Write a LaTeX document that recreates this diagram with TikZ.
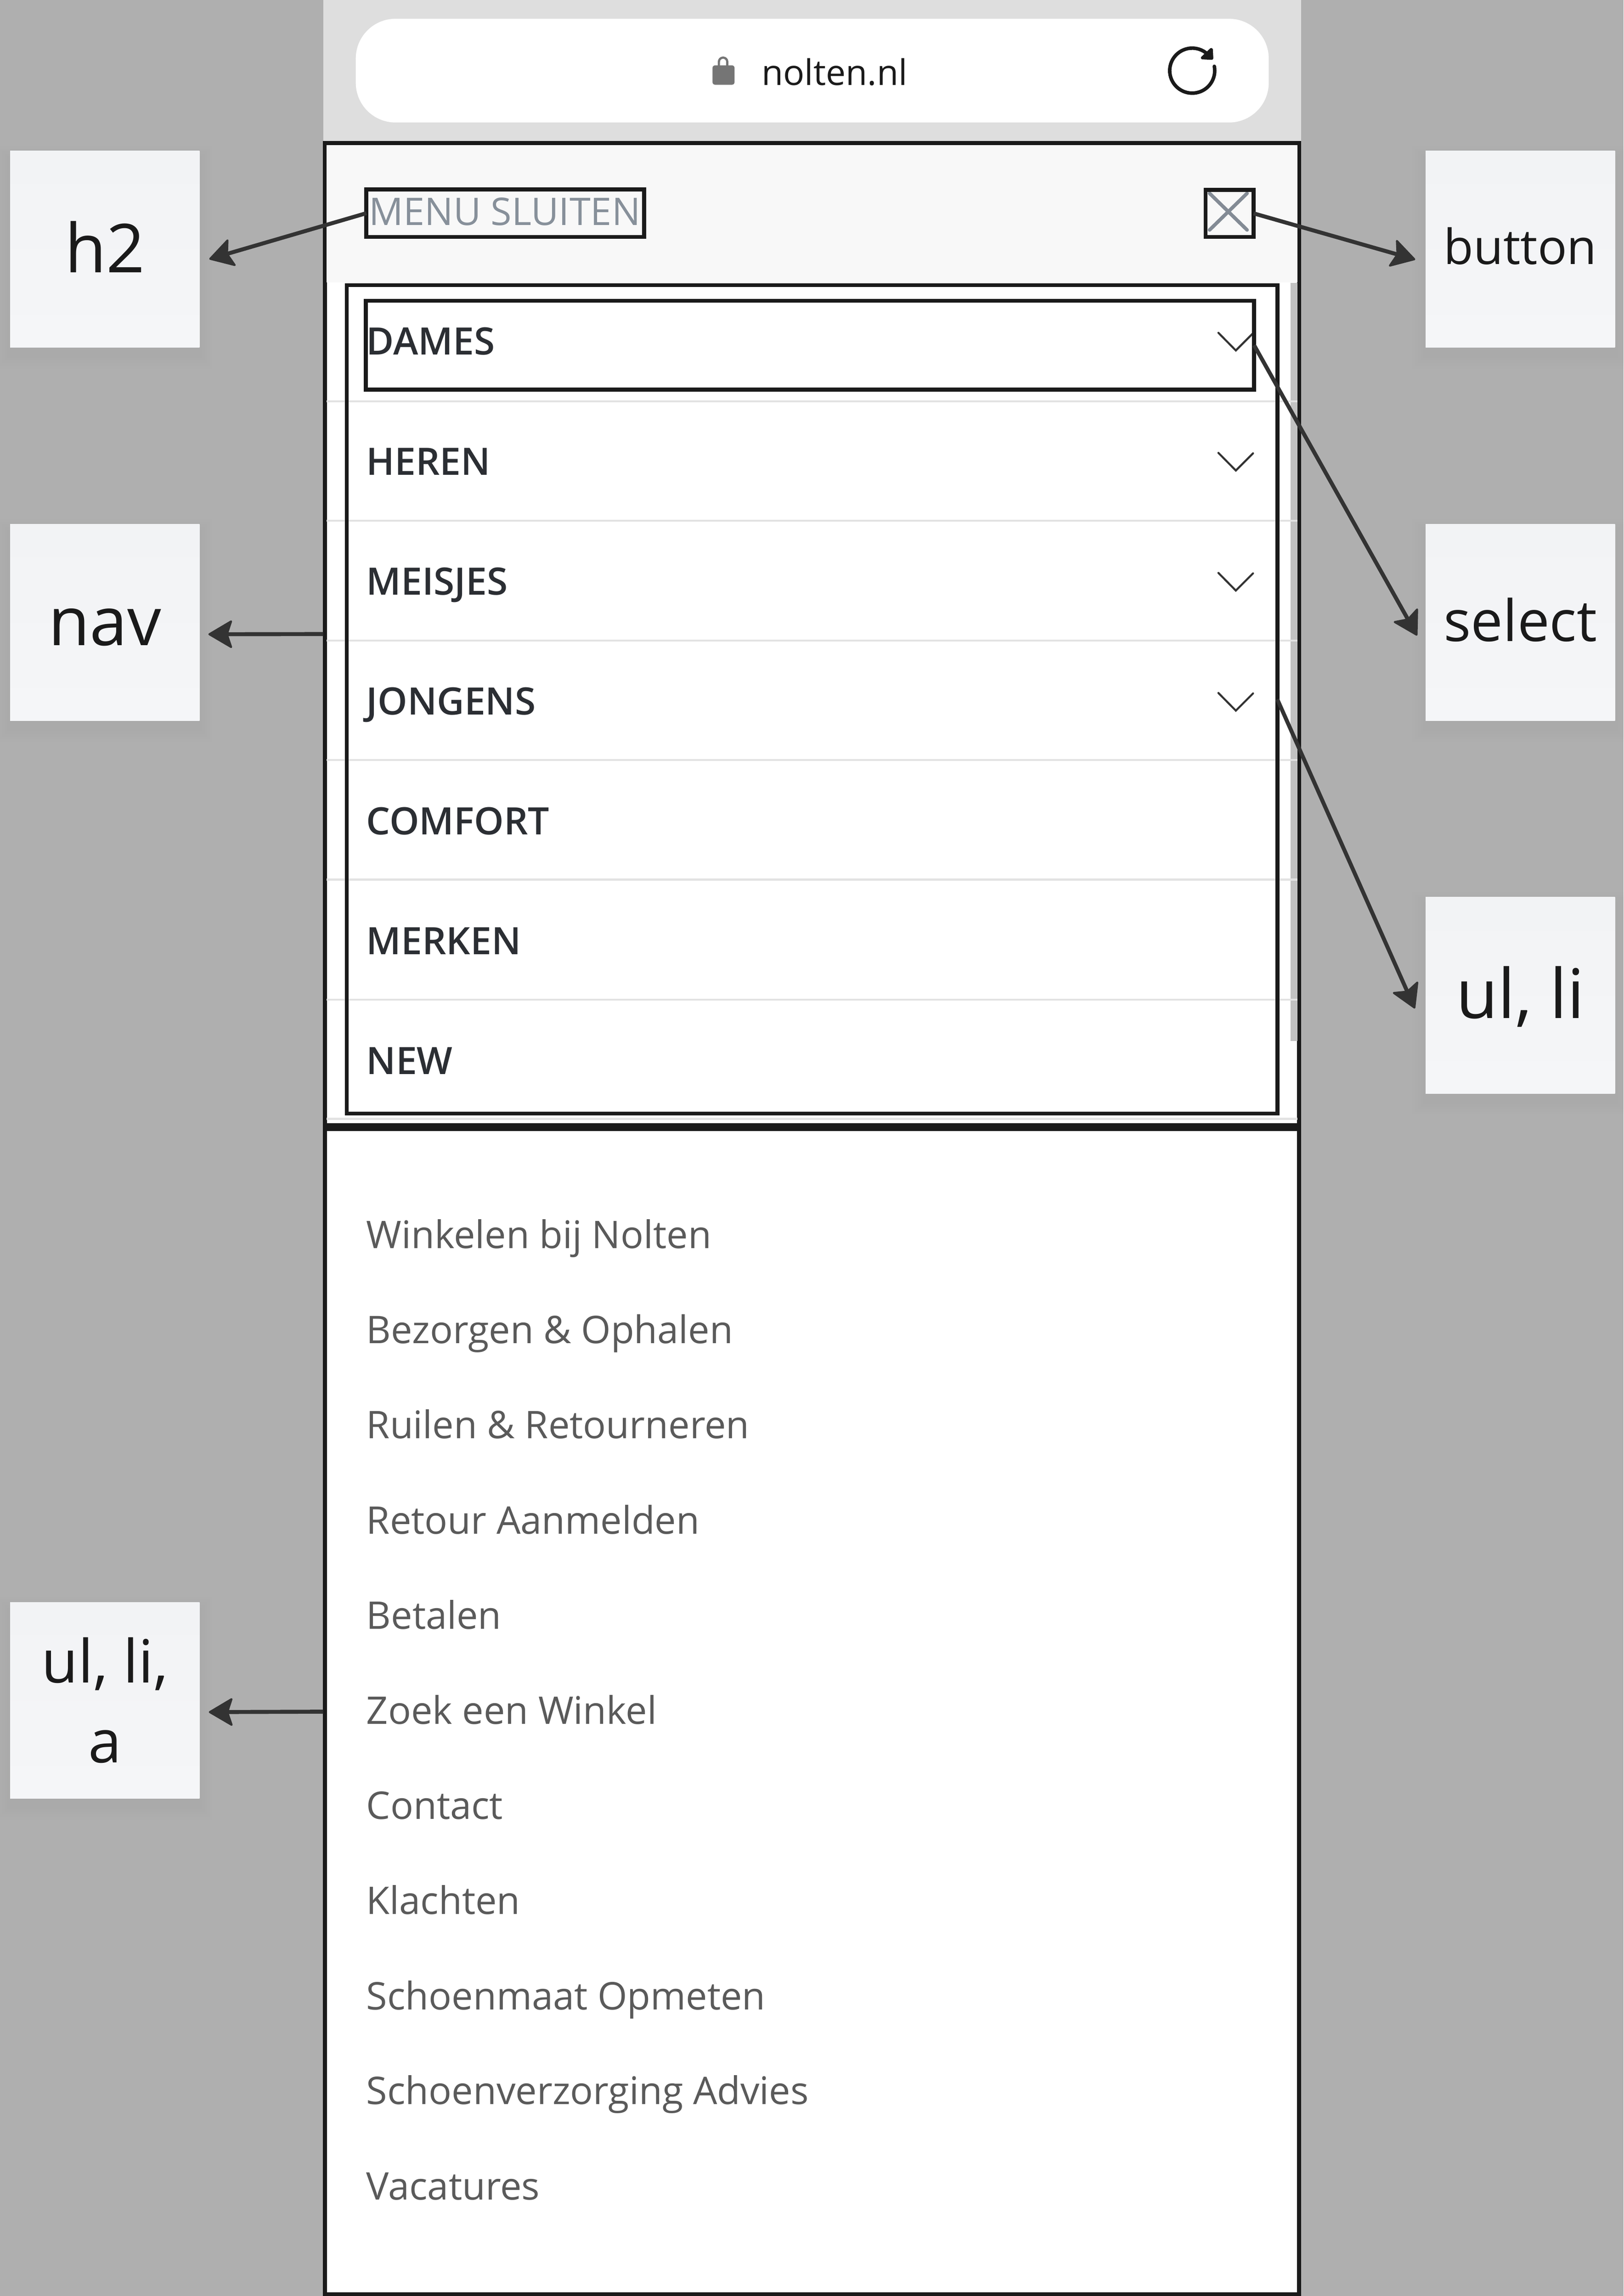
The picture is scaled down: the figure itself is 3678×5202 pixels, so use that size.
\documentclass[tikz,border=0pt]{standalone}
\usepackage{fontspec}
\setmainfont{Open Sans}
\newfontfamily\ossemi{Open Sans Semibold}
\usetikzlibrary{arrows.meta}
\definecolor{bgGrey}{HTML}{AFAFAF}
\definecolor{barGrey}{HTML}{DEDEDE}
\definecolor{ink}{HTML}{1A1A1A}
\definecolor{conn}{HTML}{333333}
\definecolor{menuInk}{HTML}{2B2E33}
\definecolor{listInk}{HTML}{5A5A5A}
\definecolor{headInk}{HTML}{87909A}
\definecolor{divider}{HTML}{E2E2E2}
\definecolor{lblTop}{HTML}{F2F3F5}
\definecolor{lblBot}{HTML}{F5F6F8}
\definecolor{lockGrey}{HTML}{757575}
\definecolor{headerBg}{HTML}{F8F8F8}
\definecolor{scrollGrey}{HTML}{C2C2C2}
\definecolor{crossGrey}{HTML}{838B95}
\tikzset{
  x=0.2pt,y=-0.2pt,
  every node/.style={inner sep=0pt,outer sep=0pt},
  frame/.style={draw=ink,line width=1.8pt,rectangle},
  labelbox/.style={rectangle,minimum width=85.8pt,minimum height=89pt,top color=lblTop,bottom color=lblBot,text=ink,align=center,anchor=center},
  connector/.style={draw=conn,line width=1.8pt,-{Stealth[length=11.5pt,width=13.5pt,inset=2.2pt,round,line width=.9pt]}},
  chevron/.style={draw=conn,line width=0.9pt,line cap=round},
  dividerline/.style={draw=divider,line width=0.9pt},
  menuitem/.style={anchor=base west,text=menuInk,font=\ossemi\fontsize{17.1}{21}\selectfont},
  listitem/.style={anchor=base west,text=listInk,font=\fontsize{17.25}{21}\selectfont},
}
\newcommand\lblshadow[2]{%
  \foreach \s in {6,12,18,24,30}{%
    \fill[black,opacity=.005] (#1-214.5-\s,#2-222.5+18-\s) rectangle (#1+214.5+\s,#2+222.5+18+\s);}}
\begin{document}
\begin{tikzpicture}
\useasboundingbox (0,0) rectangle (3678,5202);
\fill[bgGrey] (0,0) rectangle (3678,5202);
% browser bar
\fill[barGrey] (732,0) rectangle (2947,330);
\node[rectangle,fill=white,rounded corners=18pt,minimum width=413.6pt,minimum height=47pt] (pill) at (1840,160) {};
\fill[lockGrey,rounded corners=1.2pt] (1614,148) rectangle (1664,192);
\draw[lockGrey,line width=1pt] (1628.5,150) -- (1628.5,140) arc (180:0:1.9pt) -- (1647.5,150);
\node[anchor=base west,text=ink,font=\fontsize{16}{20}\selectfont] (url) at (1725,193) {nolten.nl};
\draw[ink,line width=1.6pt,line cap=round] (2750.8,150.3) arc (11:-314:10.2pt);
\fill[ink,draw=ink,line width=1.4pt,line join=round] (2744,112) -- (2745,132) -- (2724,131) -- cycle;
% panels
\node[frame,fill=white,minimum width=441.4pt,minimum height=445pt] (navpanel) at (1839.5,1436.5) {};
\fill[headerBg] (740,329) rectangle (2939,640);
\fill[scrollGrey] (2923,641) rectangle (2939,2359);
\foreach \d in {909,1180,1451,1722,1993,2265,2535}{\draw[dividerline] (740,\d) -- (2939,\d);}
\node[frame,fill=white,minimum width=441.4pt,minimum height=528pt] (listpanel) at (1839.5,3878) {};
% header row
\node[frame,minimum width=125.8pt,minimum height=21.6pt] (menubox) at (1144.5,483) {};
\node[anchor=base west,text=headInk,font=\fontsize{17.25}{20}\selectfont] (menutext) at (836,510) {MENU SLUITEN};
\draw[crossGrey,line width=1.6pt,line cap=round] (2740,438) -- (2825,521) (2825,438) -- (2740,521);
\node[frame,minimum width=21.8pt,minimum height=21.4pt] (closebox) at (2785.5,483.5) {};
% menu list
\node[frame,minimum width=421.6pt,minimum height=375.4pt] (ulbox) at (1839.5,1584.5) {};
\node[menuitem] (m1) at (830,804) {DAMES};
\node[menuitem] (m2) at (830,1076) {HEREN};
\node[menuitem] (m3) at (830,1348) {MEISJES};
\node[menuitem] (m4) at (830,1619) {JONGENS};
\node[menuitem] (m5) at (830,1891) {COMFORT};
\node[menuitem] (m6) at (830,2162) {MERKEN};
\node[menuitem] (m7) at (830,2434) {NEW};
\foreach \o in {0,272,544,816}{\draw[chevron] (2760,754+\o) -- (2799.5,794+\o) -- (2838.5,755+\o);}
\node[frame,minimum width=402.4pt,minimum height=40.3pt] (selectbox) at (1835,782.25) {};
% footer list
\node[listitem] (l1) at (830,2828) {Winkelen bij Nolten};
\node[listitem] (l2) at (830,3044) {Bezorgen \& Ophalen};
\node[listitem] (l3) at (830,3259) {Ruilen \& Retourneren};
\node[listitem] (l4) at (830,3475) {Retour Aanmelden};
\node[listitem] (l5) at (830,3691) {Betalen};
\node[listitem] (l6) at (830,3906) {Zoek een Winkel};
\node[listitem] (l7) at (830,4122) {Contact};
\node[listitem] (l8) at (830,4337) {Klachten};
\node[listitem] (l9) at (830,4553) {Schoenmaat Opmeten};
\node[listitem] (l10) at (830,4768) {Schoenverzorging Advies};
\node[listitem] (l11) at (830,4984) {Vacatures};
% labels
\lblshadow{237.5}{564.5}
\lblshadow{237.5}{1410}
\lblshadow{237.5}{3852.5}
\lblshadow{3444}{564.5}
\lblshadow{3444}{1410}
\lblshadow{3444}{2255}
\node[labelbox,font=\fontsize{30.6}{36}\selectfont,text height=21pt,text depth=0pt] (h2) at (237.5,564.5) {h2};
\node[labelbox,font=\fontsize{30.6}{36}\selectfont,text height=21pt,text depth=0pt] (nav) at (237.5,1410) {nav};
\node[labelbox,font=\fontsize{27}{36.2}\selectfont] (ula) at (237.5,3852.5) {ul, li,\\a};
\node[labelbox,font=\fontsize{22}{26}\selectfont,text height=13.8pt,text depth=0pt] (button) at (3444,564.5) {button};
\node[labelbox,font=\fontsize{25.9}{30}\selectfont,text height=17pt,text depth=0pt] (select) at (3444,1410) {select};
\node[labelbox,font=\fontsize{31}{36}\selectfont,text height=21pt,text depth=0pt] (ulli) at (3444,2255) {ul, li};
% connectors
\coordinate (h2tip) at (474,587);
\coordinate (navtip) at (472,1437);
\coordinate (ulatip) at (473,3879);
\coordinate (buttontip) at (3206,588);
\coordinate (selecttip) at (3210,1440);
\coordinate (ullitip) at (3205,2285);
\draw[connector] (menubox.west) -- (h2tip);
\draw[connector] (navpanel.west) ++(-4,0) -- (navtip);
\draw[connector] (listpanel.west) ++(-4,0) -- (ulatip);
\draw[connector] (closebox.east) -- (buttontip);
\draw[connector] (selectbox.east) -- (selecttip);
\draw[connector] (ulbox.east) -- (ullitip);
\end{tikzpicture}
\end{document}
